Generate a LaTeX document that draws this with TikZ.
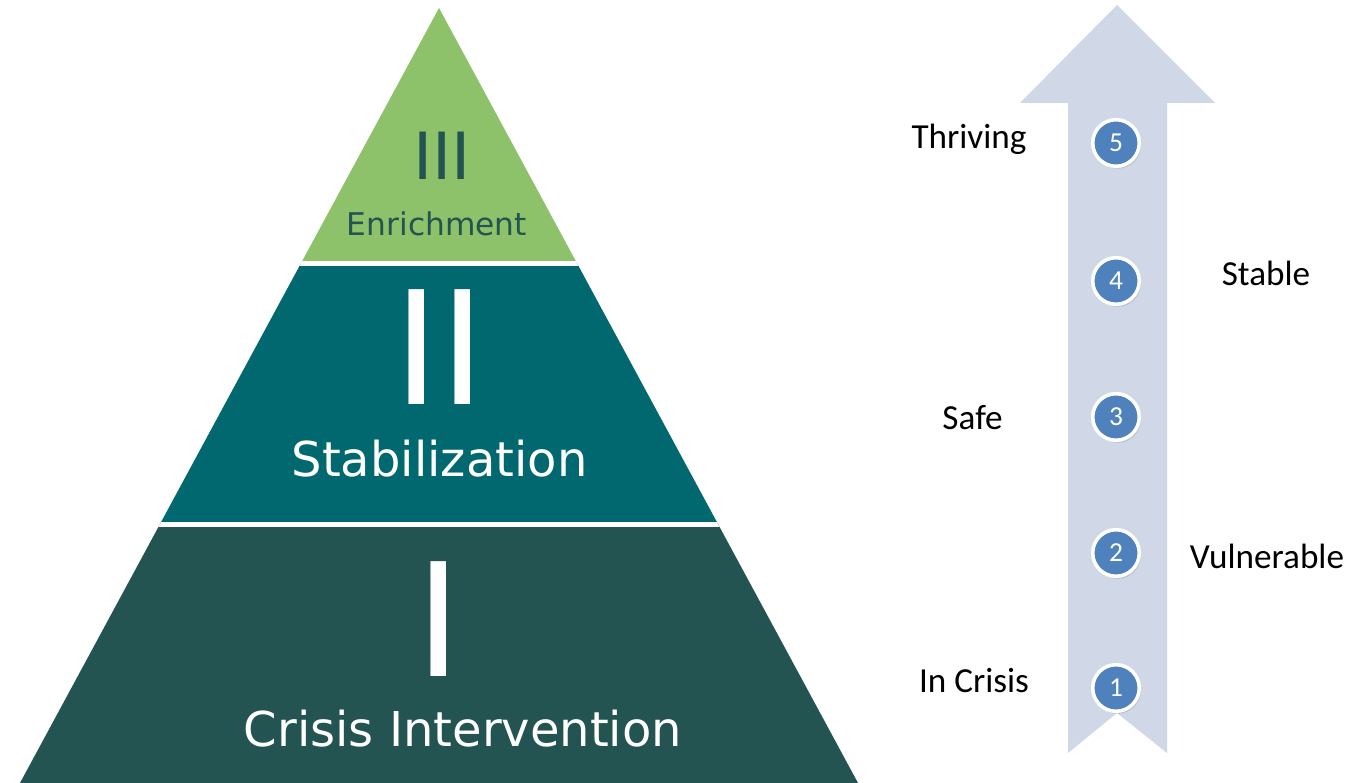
\documentclass[tikz,border=0pt]{standalone}
\usepackage{fontspec}
\usepackage{tikz}
\usetikzlibrary{shadows}
\newfontfamily\pyrfont{DejaVu Sans}
\newfontfamily\labfont{Carlito}
\definecolor{enrichgreen}{RGB}{141,193,106}
\definecolor{stabteal}{RGB}{0,104,110}
\definecolor{crisisdark}{RGB}{36,84,82}
\definecolor{arrowgrey}{RGB}{208,216,232}
\definecolor{stepblue}{RGB}{79,129,189}

\begin{document}
\begin{tikzpicture}[
  x=0.01cm, y=-0.01cm,
  numeral/.style={anchor=base, inner sep=0pt, font=\pyrfont\fontsize{44.8}{50}\selectfont},
  tiername/.style={anchor=base, inner sep=0pt, font=\pyrfont\fontsize{13.65}{16}\selectfont, text=white},
  stagelabel/.style={anchor=base, inner sep=0pt, font=\labfont\fontsize{10}{12}\selectfont},
  stagenum/.style={circle, fill=stepblue, draw=white, line width=1pt, minimum size=0.465cm,
    inner sep=0pt, text=white, font=\labfont\fontsize{7.8}{9}\selectfont,
    drop shadow={opacity=0.25, shadow xshift=0.5pt, shadow yshift=-0.7pt}}
]
\useasboundingbox (0,0) rectangle (1367,783);

% pyramid
\begin{scope}
  \clip (439,8) -- (858,783) -- (20,783) -- cycle;
  \fill[enrichgreen] (0,0) rectangle (1367,263.5);
  \fill[stabteal] (0,263.5) rectangle (1367,524.5);
  \fill[crisisdark] (0,524.5) rectangle (1367,783);
  \draw[white, line width=1.3pt] (0,263.5) -- (1367,263.5);
  \draw[white, line width=1.3pt] (0,524.5) -- (1367,524.5);
\end{scope}

\node[numeral, text=crisisdark, font=\pyrfont\fontsize{18.5}{20}\selectfont] (num3) at (442,180) {III};
\node[anchor=base, inner sep=0pt, text=crisisdark, font=\pyrfont\fontsize{8.9}{11}\selectfont] (enrich) at (437,236) {Enrichment};
\node[numeral, text=white] (num2) at (439.5,405) {II};
\node[tiername] (stab) at (439.5,477) {Stabilization};
\node[numeral, text=white] (num1) at (439,677) {I};
\node[tiername] (crisis) at (463,747) {Crisis Intervention};

% arrow
\fill[arrowgrey] (1117,5) -- (1215,103) -- (1167,103) -- (1167,753) -- (1117,713)
  -- (1068,753) -- (1068,103) -- (1020,103) -- cycle;

\foreach \n/\y in {5/143, 4/281, 3/417, 2/553, 1/688}
  \node[stagenum] (s\n) at (1116,\y) {\n};

\node[stagelabel] (thriving) at (969,149) {Thriving};
\node[stagelabel] (stable) at (1266,286) {Stable};
\node[stagelabel] (safe) at (972.5,430) {Safe};
\node[stagelabel] (vulnerable) at (1267,569) {Vulnerable};
\node[stagelabel] (incrisis) at (974,693) {In Crisis};
\end{tikzpicture}
\end{document}
